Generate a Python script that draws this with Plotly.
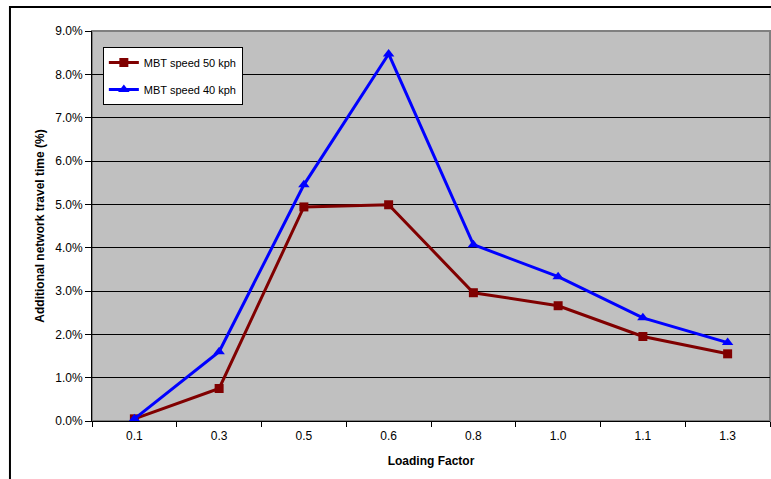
import plotly.graph_objects as go

categories = ["0.1", "0.3", "0.5", "0.6", "0.8", "1.0", "1.1", "1.3"]
speed50 = [0.0005, 0.0075, 0.0494, 0.0499, 0.0296, 0.0266, 0.0195, 0.0155]
speed40 = [0.0005, 0.0160, 0.0545, 0.0847, 0.0407, 0.0333, 0.0238, 0.0181]
y_ticks = [i / 100 for i in range(0, 10)]

fig = go.Figure()
fig.add_trace(go.Scatter(
    x=categories, y=speed50, name="MBT speed 50 kph", mode="lines+markers",
    line=dict(color="#800000", width=3),
    marker=dict(symbol="square", size=9, color="#800000"),
    legendgroup="a",
))
fig.add_trace(go.Scatter(
    x=categories, y=speed40, name="MBT speed 40 kph", mode="lines+markers",
    line=dict(color="#0000FF", width=3),
    marker=dict(symbol="triangle-up", size=10, color="#0000FF"),
    legendgroup="b",
))

fig.update_layout(
    width=771, height=479,
    margin=dict(l=92, r=1, t=31, b=58),
    paper_bgcolor="white",
    plot_bgcolor="#C0C0C0",
    font=dict(family="Liberation Sans, Arial, sans-serif", size=12, color="black"),
    showlegend=True,
    legend=dict(
        x=0.016, y=0.959, xanchor="left", yanchor="top",
        bgcolor="white", bordercolor="black", borderwidth=1,
        font=dict(size=11), tracegroupgap=8, traceorder="grouped",
        itemwidth=30,
    ),
    xaxis=dict(
        type="category", tickson="boundaries", ticks="outside", ticklen=5,
        tickcolor="black", showline=True, linecolor="black", linewidth=1,
        showgrid=False, zeroline=False, range=[-0.5, 7.5],
        tickfont=dict(size=12), ticklabelstandoff=4,
        title=dict(text="<b>Loading Factor</b>", font=dict(size=12), standoff=14),
    ),
    yaxis=dict(
        range=[0, 0.09], tickvals=y_ticks, tickformat=".1%",
        ticks="outside", ticklen=6, tickcolor="black",
        showline=True, linecolor="black", linewidth=1,
        showgrid=True, gridcolor="black", gridwidth=1, zeroline=False,
        tickfont=dict(size=12),
        title=dict(text="<b>Additional network travel time (%)</b>", font=dict(size=12), standoff=8),
    ),
    shapes=[
        dict(type="rect", xref="paper", yref="paper", x0=0, x1=1, y0=0, y1=1,
             line=dict(color="#808080", width=2), layer="below"),
        dict(type="rect", xref="paper", yref="paper", x0=-0.121, x1=1.2, y0=-0.3, y1=1.0615,
             line=dict(color="black", width=2), layer="above"),
    ],
)

fig.write_html("out.html")
